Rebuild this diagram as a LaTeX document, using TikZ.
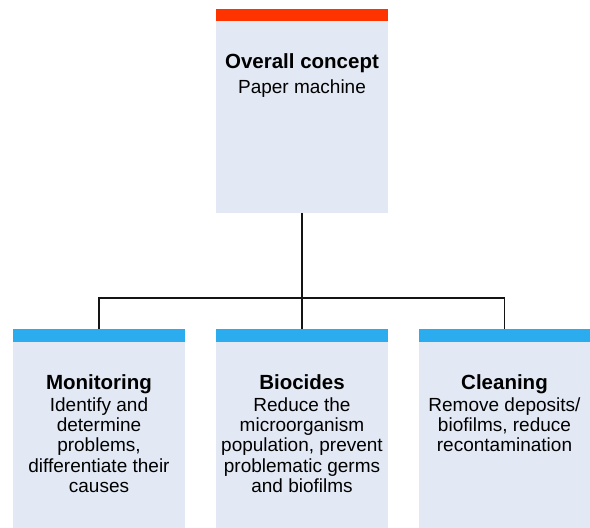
\documentclass[tikz,border=0pt]{standalone}
\usepackage{fontspec}
\setmainfont{Liberation Sans}
\definecolor{boxfill}{RGB}{227,233,244}
\definecolor{topbar}{RGB}{255,51,0}
\definecolor{subbar}{RGB}{43,172,238}
\definecolor{linec}{RGB}{20,20,20}
\newcommand\ttl[1]{{\fontsize{20.5}{20.3}\selectfont\bfseries #1}}
\begin{document}
\begin{tikzpicture}[x=1pt,y=-1pt,
  panel/.style={fill=boxfill, draw=none, inner sep=0pt, outer sep=0pt, minimum width=172pt, anchor=north west},
  toppanel/.style={panel, minimum height=204pt},
  subpanel/.style={panel, minimum height=199pt},
  txt/.style={inner sep=0pt, anchor=base, text=black, font=\fontsize{19}{20.3}\selectfont},
  conn/.style={draw=linec, line width=1.5pt}
]
\useasboundingbox (0,0) rectangle (590,528);
% boxes
\node[toppanel] (top) at (216,9) {};
\node[subpanel] (mon) at (13,329) {};
\node[subpanel] (bio) at (216,329) {};
\node[subpanel, minimum width=171pt] (cle) at (419,329) {};
% bars
\fill[topbar] (top.north west) rectangle ([yshift=-12pt]top.north east);
\foreach \b in {mon,bio,cle}{
  \fill[subbar] (\b.north west) rectangle ([yshift=-13pt]\b.north east);
}
% connectors
\coordinate (hub) at (302,298);
\draw[conn] (top.south) -- (bio.north);
\draw[conn] (mon.north) |- (hub) -| (cle.north);
% texts
\node[txt] (topt) at (302,68.3) {\ttl{Overall concept}};
\node[txt] (tops) at (302,93.7) {Paper machine};
\node[txt] (mont) at (99,389.5) {\begin{tabular}[t]{@{}c@{}}\ttl{Monitoring}\\[1.4pt]
Identify and\\ determine\\ problems,\\ differentiate their\\ causes\end{tabular}};
\node[txt] (biot) at (302,389.5) {\begin{tabular}[t]{@{}c@{}}\ttl{Biocides}\\[1.4pt]
Reduce the\\ microorganism\\ population, prevent\\ problematic germs\\ and biofilms\end{tabular}};
\node[txt] (clet) at (504.5,389.5) {\begin{tabular}[t]{@{}c@{}}\ttl{Cleaning}\\[1.4pt]
Remove deposits/\\ biofilms, reduce\\ recontamination\end{tabular}};
\end{tikzpicture}
\end{document}
